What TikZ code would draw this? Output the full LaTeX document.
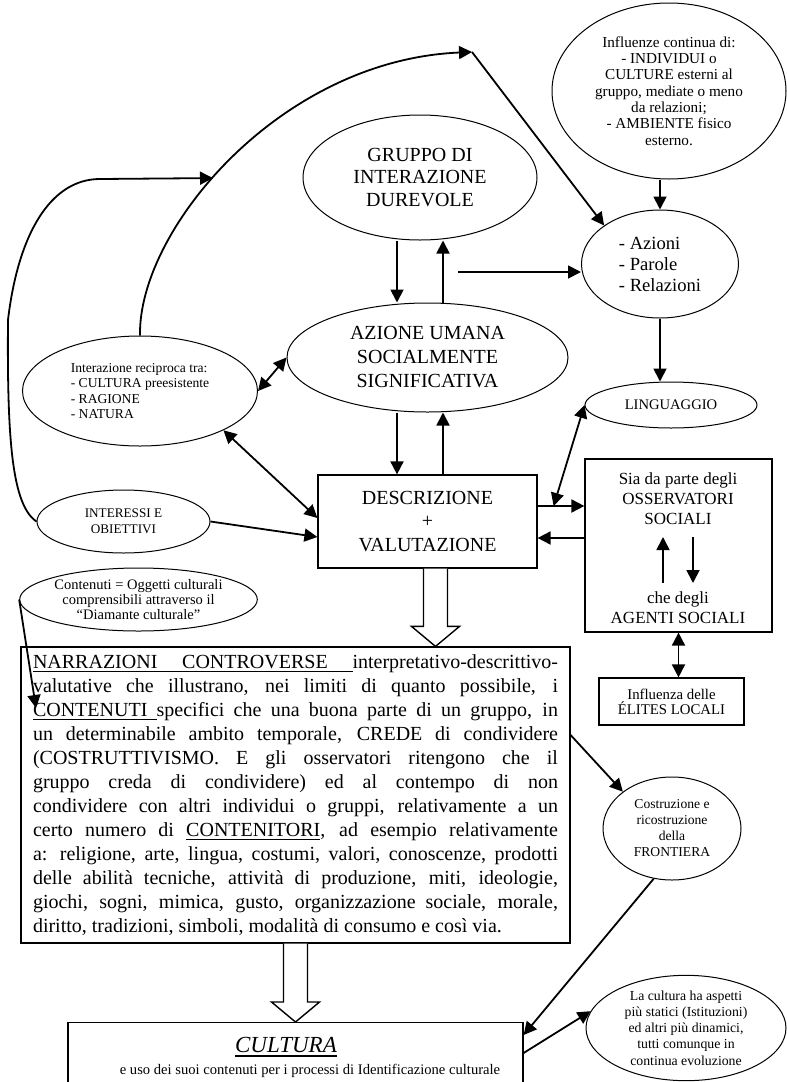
\documentclass[tikz,border=0pt]{standalone}
\usepackage{fontspec}
\setmainfont{Liberation Serif}
\usetikzlibrary{arrows.meta,shapes.geometric,calc,positioning}

\newcommand{\fsize}[2]{\fontsize{#1}{#2}\selectfont}
\newcommand{\ulsp}{\leaders\hrule height -1.2pt depth 1.6pt\hskip 2.5pt plus 1.25pt minus 0.8pt\relax}
\newcommand{\thickul}[1]{{\setbox0\hbox{#1}\rlap{\rule[-2.4pt]{\wd0}{0.9pt}}\box0}}
\newcommand{\fatarrow}[2]{%
  \draw[fat] ($#1+(-6pt,0)$) -- ($#2+(-6pt,10pt)$) -- ($#2+(-12pt,10pt)$) -- #2
    -- ($#2+(12pt,10pt)$) -- ($#2+(6pt,10pt)$) -- ($#1+(6pt,0)$);}

\begin{document}
\begin{tikzpicture}[
        x=0.5pt, y=-0.5pt,
        ell/.style={draw, ellipse, line width=0.5pt, inner sep=0pt, align=center},
        boxnode/.style={draw, rectangle, line width=0.6pt, inner sep=0pt, align=center},
        txt/.style={inner sep=0pt, align=center},
        arr/.style={-{Triangle[length=6.5pt,width=6.5pt]}, line width=0.9pt},
        darr/.style={{Triangle[length=6.5pt,width=6.5pt]}-{Triangle[length=6.5pt,width=6.5pt]}, line width=0.9pt},
        fat/.style={draw, line width=0.7pt, fill=white, line join=miter}
    ]
    \useasboundingbox (0,0) rectangle (787,1082);
    \clip (0,0) rectangle (787,1082);

    \node[ell, minimum width=117pt, minimum height=62.5pt, font=\fsize{10}{11.25}] (gruppo) at (420,177.5)
        {GRUPPO DI\\INTERAZIONE\\DUREVOLE};
    \node[ell, minimum width=140.5pt, minimum height=54.5pt, font=\fsize{10}{12}] (azione) at (427.5,357.5)
        {AZIONE UMANA\\SOCIALMENTE\\SIGNIFICATIVA};
    \node[ell, minimum width=78.5pt, minimum height=54pt, align=left, font=\fsize{9.3}{10.5}] (azioni) at (660,264)
        {- Azioni\\- Parole\\- Relazioni};
    \node[ell, minimum width=117pt, minimum height=88pt, font=\fsize{7.6}{8.15}] (influ) at (669,91)
        {Influenze continua di:\\- INDIVIDUI o\\CULTURE esterni al\\gruppo, mediate o meno\\
         da relazioni;\\- AMBIENTE fisico\\esterno.};
    \node[ell, minimum width=117.5pt, minimum height=55pt, align=left, font=\fsize{6.8}{7.75}] (inter) at (140,391)
        {Interazione reciproca tra:\\- CULTURA preesistente\\- RAGIONE\\- NATURA};
    \node[ell, minimum width=86.5pt, minimum height=31.5pt, font=\fsize{6.6}{8}] (interessi) at (123.5,521.5)
        {INTERESSI E\\OBIETTIVI};
    \node[ell, minimum width=86pt, minimum height=23pt, font=\fsize{7.3}{8}] (ling) at (671,405)
        {LINGUAGGIO};
    \node[boxnode, minimum width=109.5pt, minimum height=46.5pt, font=\fsize{10}{11.75}] (desc) at (427.5,521.5)
        {DESCRIZIONE\\+\\VALUTAZIONE};

    \node[boxnode, minimum width=93.5pt, minimum height=86.5pt] (sia) at (678.5,545.5) {};
    \node[txt, font=\fsize{8.5}{10}] (osserv) at (678,499) {Sia da parte degli\\OSSERVATORI\\SOCIALI};
    \node[txt, font=\fsize{8.5}{10}] (agenti) at (678,608) {che degli\\AGENTI SOCIALI};
    \node[boxnode, minimum width=72.5pt, minimum height=23.5pt, font=\fsize{7.4}{7.5}] (elites) at (671.5,701.5)
        {Influenza delle\\ÉLITES LOCALI};

    \node[ell, minimum width=117.5pt, minimum height=31.5pt, font=\fsize{7.25}{7.5}] (contenuti) at (138.5,599.5)
        {Contenuti = Oggetti culturali\\comprensibili attraverso il\\“Diamante culturale”};
    \node[boxnode, text width=262.5pt, inner xsep=6pt, inner ysep=3pt, minimum height=148pt,
          align=justify, font=\fsize{10}{12}] (narr) at (295.5,795)
        {\underline{NARRAZIONI}\ulsp\underline{CONTROVERSE}\ulsp interpretativo-descrittivo-\linebreak
         valutative che illustrano, nei limiti di quanto possibile, i\linebreak
         \underline{CONTENUTI}\ulsp specifici che una buona parte di un gruppo, in\linebreak
         un determinabile ambito temporale, CREDE di condividere\linebreak
         (COSTRUTTIVISMO. E gli osservatori ritengono che il\linebreak
         gruppo creda di condividere) ed al contempo di non\linebreak
         condividere con altri individui o gruppi, relativamente a un\linebreak
         certo numero di \underline{CONTENITORI}, ad esempio relativamente\linebreak
         a: religione, arte, lingua, costumi, valori, conoscenze, prodotti\linebreak
         delle abilità tecniche, attività di produzione, miti, ideologie,\linebreak
         giochi, sogni, mimica, gusto, organizzazione sociale, morale,\linebreak
         diritto, tradizioni, simboli, modalità di consumo e così via.};
    \node[ell, minimum width=69pt, minimum height=51.5pt, font=\fsize{6.8}{8}] (costr) at (672,828.5)
        {Costruzione e\\ricostruzione\\della\\FRONTIERA};

    \node[boxnode, anchor=north, minimum width=227.5pt, minimum height=60pt] (cult) at (295.5,1022) {};
    \node[txt, anchor=base, font=\fsize{11.5}{13}] (culttitle) at (286,1052)
        {\thickul{\textit{CULTURA}}};
    \node[txt, anchor=base, font=\fsize{7.3}{8}] (cultsub) at (310,1074)
        {e uso dei suoi contenuti per i processi di Identificazione culturale};
    \node[ell, minimum width=100pt, minimum height=52pt, font=\fsize{6.9}{8.1}] (lacult) at (686,1028)
        {La cultura ha aspetti\\più statici (Istituzioni)\\ed altri più dinamici,\\tutti comunque in\\
         continua evoluzione};

    \coordinate (colL) at (397,0);
    \coordinate (colR) at (443,0);
    \coordinate (toazioni) at (458,272);
    \coordinate (apex) at (472,52);
    \coordinate (dsout) at ([yshift=7.75pt]desc.east);
    \coordinate (dsin) at ([yshift=-8.25pt]desc.east);
    \coordinate (lingfoot) at ($(dsout)+(8pt,0)$);
    \coordinate (uplo) at ([xshift=-7.75pt,yshift=-18.75pt]sia.center);
    \coordinate (uphi) at ([xshift=-7.75pt,yshift=4.25pt]sia.center);
    \coordinate (dnhi) at ([xshift=7.25pt,yshift=4.25pt]sia.center);
    \coordinate (dnlo) at ([xshift=7.25pt,yshift=-18.75pt]sia.center);
    \coordinate (contfoot) at (36,708);
    \coordinate (dtop) at ([xshift=4pt]desc.south);
    \coordinate (ntop) at (narr.south);

    \draw[arr] (inter.north) .. controls (138,230) and (280,60) .. (apex) coordinate[pos=0.44] (arcmeet);
    \draw[arr] (interessi.west) .. controls (12,505) and (7,440) .. (8,320)
        .. controls (18,235) and (50,179) .. (100,179) -- (arcmeet);
    \draw[arr] (apex) -- (azioni.north west);
    \draw[arr] (influ.south -| azioni.north) -- (azioni.north);
    \draw[arr] (gruppo.south -| colL) -- (azione.north -| colL);
    \draw[arr] (azione.north -| colR) -- (gruppo.south -| colR);
    \draw[arr] (toazioni) -- (toazioni -| azioni.west);
    \draw[arr] (azione.south -| colL) -- (desc.north -| colL);
    \draw[arr] (desc.north -| colR) -- (azione.south -| colR);
    \draw[arr] (azioni.south) -- (azioni.south |- ling.north);
    \draw[darr] (inter.east) -- (azione.west);
    \draw[darr] (inter.south east) -- ([yshift=1.75pt]desc.west);
    \draw[arr] (interessi.east) -- ([yshift=-7.75pt]desc.west);
    \draw[arr] (dsout) -- (dsout -| sia.west);
    \draw[arr] (dsin -| sia.west) -- (dsin);
    \draw[darr] (lingfoot) -- (ling.west);
    \draw[arr] (uplo) -- (uphi);
    \draw[arr] (dnhi) -- (dnlo);
    \draw[darr] (sia.south) -- (sia.south |- elites.north);
    \fatarrow{(dtop)}{(dtop |- narr.north)}
    \draw[arr] (contenuti.west) -- (contfoot);
    \draw[arr] ([yshift=30pt]narr.east) -- (costr.north west);
    \draw[arr] (costr.250) -- ([yshift=-6.5pt]cult.north east);
    \fatarrow{(ntop)}{(ntop |- cult.north)}
    \draw[arr] ([yshift=-15.5pt]cult.north east) -- (lacult.170);
\end{tikzpicture}
\end{document}
